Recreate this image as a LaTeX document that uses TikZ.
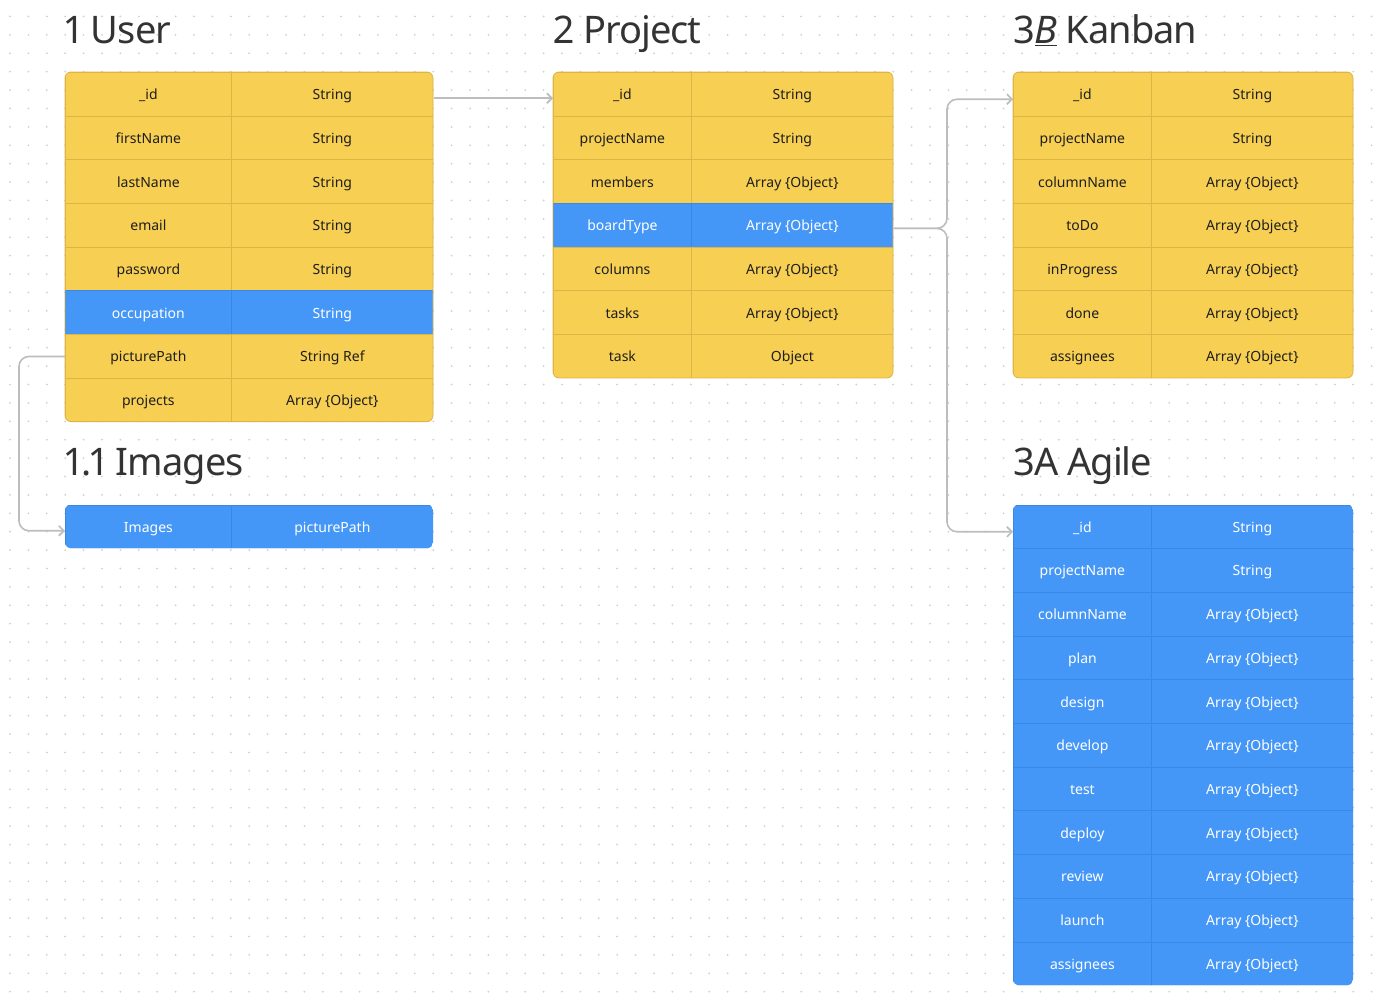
\documentclass[tikz,border=0pt]{standalone}
\usepackage{fontspec}
\setmainfont{Noto Sans}
\usetikzlibrary{arrows.meta}

\definecolor{tabYellow}{HTML}{F7CF52}
\definecolor{lineYellow}{HTML}{DDB545}
\definecolor{tabBlue}{HTML}{4597F7}
\definecolor{lineBlue}{HTML}{3A87E4}
\definecolor{linkGray}{HTML}{BDBDBD}
\definecolor{dotGray}{HTML}{D0D0D0}
\definecolor{inkDark}{HTML}{1E1E1E}
\definecolor{titleDark}{HTML}{333333}

\tikzset{
  cell/.style={minimum height=43.7pt, inner sep=0pt, anchor=north west,
    text height=12pt, text depth=1pt,
    font=\fontsize{14}{16}\selectfont, line width=0.8pt},
  yel/.style={cell, fill=tabYellow, draw=lineYellow, text=inkDark},
  blu/.style={cell, fill=tabBlue, draw=lineBlue, text=white},
  title/.style={anchor=base west, inner sep=0pt,
    font=\fontsize{38}{40}\selectfont\addfontfeature{Numbers=Proportional,LetterSpace=-2.5},
    text=titleDark},
  link/.style={draw=linkGray, line width=1.6pt, rounded corners=10pt,
    -{Straight Barb[length=5pt,width=10pt]}},
}

\begin{document}
\begin{tikzpicture}[x=1pt,y=-1pt]
  % canvas
  \useasboundingbox[fill=white] (0,0) rectangle (1376,1008);
  \foreach \gx in {0,...,74}
    \foreach \gy in {0,...,53}
      \fill[dotGray] ({10+\gx*18.4},{16.5+\gy*18.4}) circle (1);

  % titles
  \node[title] (userTitle)   at (65,44)   {1 User};
  \node[title] (imgTitle)    at (65,475)  {1.1 Images};
  \node[title] (projTitle)   at (553,44)  {2 Project};
  \node[title] (kanbanTitle) at (1013,44) {3\underline{\textit{B}} Kanban};
  \node[title] (agileTitle)  at (1013,475) {3A Agile};

  % user
  \begin{scope}
    \clip[rounded corners=6pt] (65,72) rectangle (433,421.6);
    \foreach \fname/\ftype/\look [count=\i] in {\_id/String/yel,
        firstName/String/yel, lastName/String/yel, email/String/yel,
        password/String/yel, occupation/String/blu,
        picturePath/String Ref/yel, projects/Array \{Object\}/yel} {
      \node[\look, minimum width=166pt] (user-n\i) at (65,{72+(\i-1)*43.7}) {\fname};
      \node[\look, minimum width=202pt] (user-t\i) at (231,{72+(\i-1)*43.7}) {\ftype};
    }
  \end{scope}
  \draw[lineYellow, line width=0.8pt, rounded corners=6pt] (65,72) rectangle (433,421.6);

  % images
  \begin{scope}
    \clip[rounded corners=6pt] (65,504.5) rectangle (433,548.2);
    \node[blu, minimum width=166pt] (img-n1) at (65,504.5) {Images};
    \node[blu, minimum width=202pt] (img-t1) at (231,504.5) {picturePath};
  \end{scope}

  % project
  \begin{scope}
    \clip[rounded corners=6pt] (553,72) rectangle (893,377.9);
    \foreach \fname/\ftype/\look [count=\i] in {\_id/String/yel,
        projectName/String/yel, members/Array \{Object\}/yel,
        boardType/Array \{Object\}/blu, columns/Array \{Object\}/yel,
        tasks/Array \{Object\}/yel, task/Object/yel} {
      \node[\look, minimum width=138pt] (proj-n\i) at (553,{72+(\i-1)*43.7}) {\fname};
      \node[\look, minimum width=202pt] (proj-t\i) at (691,{72+(\i-1)*43.7}) {\ftype};
    }
  \end{scope}
  \draw[lineYellow, line width=0.8pt, rounded corners=6pt] (553,72) rectangle (893,377.9);

  % kanban
  \begin{scope}
    \clip[rounded corners=6pt] (1013,72) rectangle (1353,377.9);
    \foreach \fname/\ftype/\look [count=\i] in {\_id/String/yel,
        projectName/String/yel, columnName/Array \{Object\}/yel,
        toDo/Array \{Object\}/yel, inProgress/Array \{Object\}/yel,
        done/Array \{Object\}/yel, assignees/Array \{Object\}/yel} {
      \node[\look, minimum width=138pt] (kanban-n\i) at (1013,{72+(\i-1)*43.7}) {\fname};
      \node[\look, minimum width=202pt] (kanban-t\i) at (1151,{72+(\i-1)*43.7}) {\ftype};
    }
  \end{scope}
  \draw[lineYellow, line width=0.8pt, rounded corners=6pt] (1013,72) rectangle (1353,377.9);

  % agile
  \begin{scope}
    \clip[rounded corners=6pt] (1013,504.5) rectangle (1353,985.2);
    \foreach \fname/\ftype [count=\i] in {\_id/String, projectName/String,
        columnName/Array \{Object\}, plan/Array \{Object\},
        design/Array \{Object\}, develop/Array \{Object\},
        test/Array \{Object\}, deploy/Array \{Object\},
        review/Array \{Object\}, launch/Array \{Object\},
        assignees/Array \{Object\}} {
      \node[blu, minimum width=138pt] (agile-n\i) at (1013,{504.5+(\i-1)*43.7}) {\fname};
      \node[blu, minimum width=202pt] (agile-t\i) at (1151,{504.5+(\i-1)*43.7}) {\ftype};
    }
  \end{scope}

  % links
  \coordinate (forkX) at (947,0);
  \coordinate (loopX) at (19,0);
  \coordinate (userOut)   at ([yshift=-4pt]user-t1.east);
  \coordinate (projIn)    at ([yshift=-4pt]proj-n1.west);
  \coordinate (boardOut)  at ([yshift=-3pt]proj-t4.east);
  \coordinate (kanbanIn)  at ([yshift=-5pt]kanban-n1.west);
  \coordinate (agileIn)   at ([yshift=-5pt]agile-n1.west);
  \coordinate (imgIn)     at ([yshift=-4pt]img-n1.west);
  \draw[link] (userOut) -- (projIn);
  \draw[link] (boardOut) -| (forkX |- kanbanIn) -- (kanbanIn);
  \draw[link] (boardOut) -| (forkX |- agileIn) -- (agileIn);
  \draw[link] (user-n7.west) -| (loopX |- imgIn) -- (imgIn);
\end{tikzpicture}
\end{document}
